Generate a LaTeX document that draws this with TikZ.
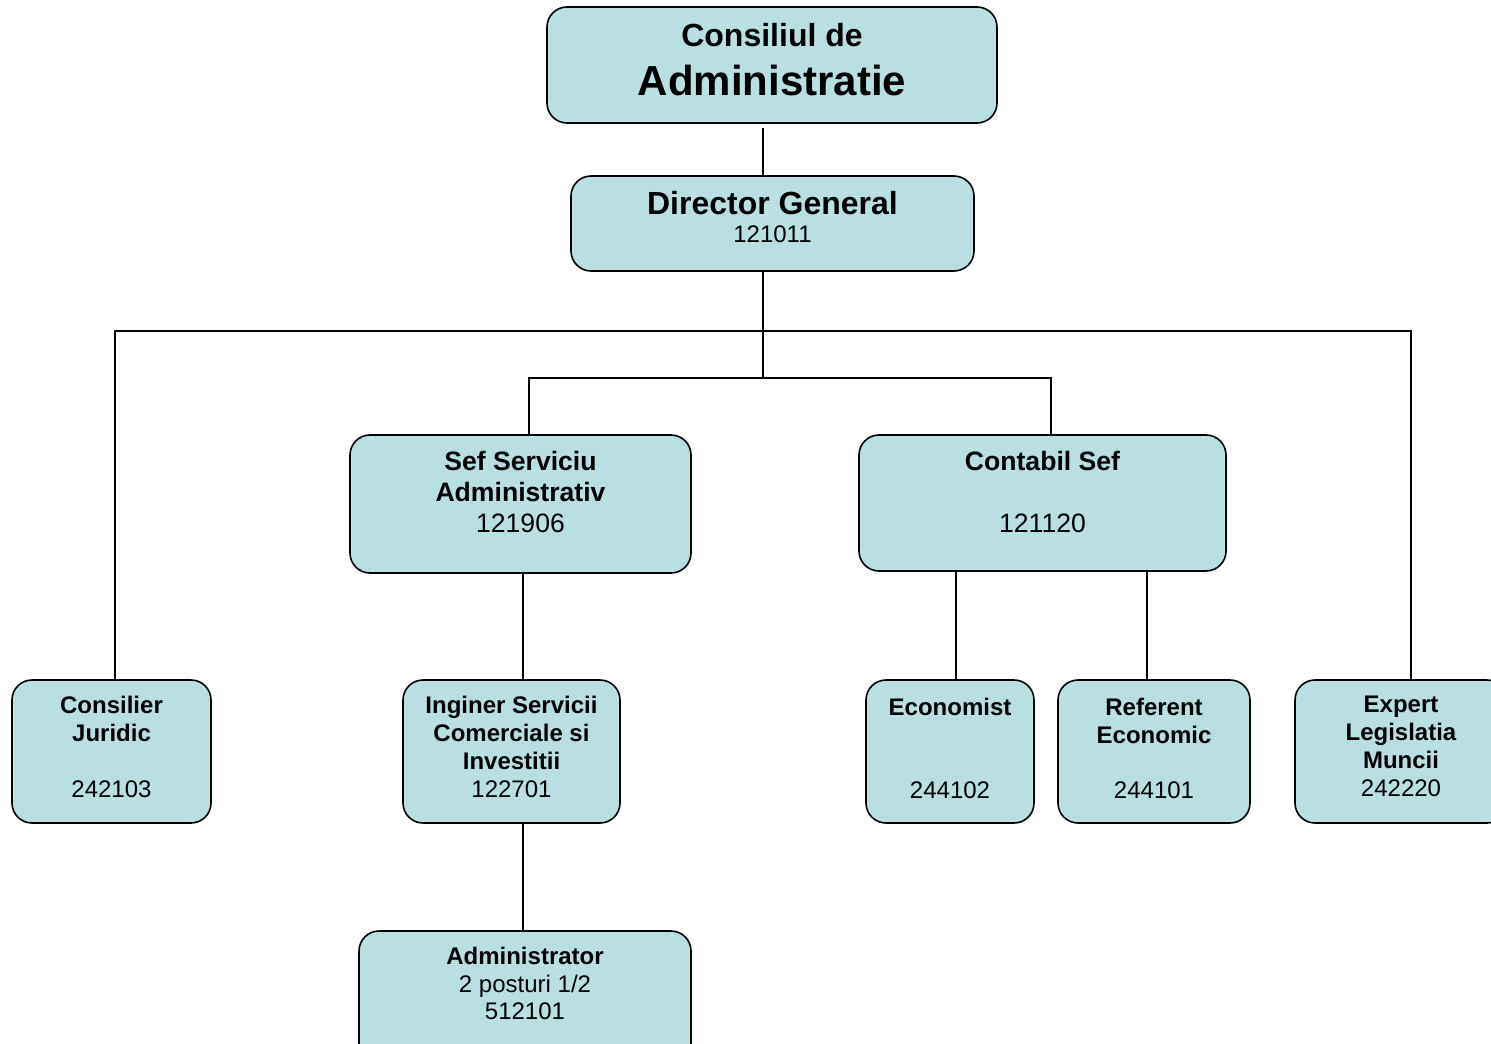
\documentclass[tikz,border=0pt]{standalone}
\usepackage{fontspec}
\setmainfont{Liberation Sans}
\usepackage{tikz}
\usetikzlibrary{positioning, fit, calc}
\definecolor{orgFill}{RGB}{185, 223, 227}
\definecolor{orgLine}{RGB}{0, 0, 0}
\tikzset{
    post/.style={
        rectangle,
        rounded corners=10pt,
        draw=orgLine,
        line width=0.8pt,
        fill=orgFill,
        inner sep=0pt
    },
    posttext/.style={
        anchor=north,
        inner sep=0pt,
        align=center,
        font=\fontsize{12}{14}\selectfont
    },
    link/.style={
        draw=orgLine,
        line width=0.7pt
    }
}

\begin{document}
\begin{tikzpicture}[x=0.5pt, y=-0.5pt]
  \useasboundingbox (0,0) rectangle (1491,1043);

  % Coordinates
  \coordinate (trunk) at (763,331);
  \coordinate (fork) at (763,378);
  \coordinate (colA) at (523,0);
  \coordinate (colB) at (956,0);
  \coordinate (colC) at (1147,0);

  % Components
  \node[post, fit={(547,7) (997,123)}] (cda) {};
  \node[post, fit={(571,176) (974,271)}] (dg) {};
  \node[post, fit={(350,435) (691,573)}] (sef) {};
  \node[post, fit={(859,435) (1226,571)}] (cs) {};
  \node[post, fit={(12,680) (211,823)}] (cj) {};
  \node[post, fit={(403,680) (620,823)}] (isci) {};
  \node[post, fit={(866,680) (1034,823)}] (eco) {};
  \node[post, fit={(1058,680) (1250,823)}] (ref) {};
  \node[post, fit={(1295,680) (1507,823)}] (elm) {};
  \node[post, fit={(359,931) (691,1069)}] (adm) {};

  % Texts
  \node[posttext, font=\bfseries\fontsize{16}{18}\selectfont] (cda-t) at ([yshift=-8.5pt]cda.north) {Consiliul de\\[6.5pt]\fontsize{21}{24.5}\selectfont Administratie};
  \node[posttext] (dg-t) at ([yshift=-7.75pt]dg.north) {{\bfseries\fontsize{16}{18}\selectfont Director General}\\\fontsize{12}{14.5}\selectfont 121011};
  \node[posttext, font=\fontsize{13.3}{15.5}\selectfont] (sef-t) at ([yshift=-8.25pt]sef.north) {\textbf{Sef Serviciu}\\\textbf{Administrativ}\\121906};
  \node[posttext, font=\fontsize{13.3}{15.5}\selectfont] (cs-t) at ([yshift=-8.25pt]cs.north) {\textbf{Contabil Sef}\\~\\121120};
  \node[posttext] (cj-t) at ([yshift=-8.25pt]cj.north) {\textbf{Consilier}\\\textbf{Juridic}\\~\\242103};
  \node[posttext] (isci-t) at ([yshift=-8.25pt]isci.north) {\textbf{Inginer Servicii}\\\textbf{Comerciale si}\\\textbf{Investitii}\\122701};
  \node[posttext, font=\fontsize{12}{13.8}\selectfont] (eco-t) at ([yshift=-9.25pt]eco.north) {\textbf{Economist}\\~\\~\\244102};
  \node[posttext, font=\fontsize{12}{13.8}\selectfont] (ref-t) at ([yshift=-9.25pt]ref.north) {\textbf{Referent}\\\textbf{Economic}\\~\\244101};
  \node[posttext] (elm-t) at ([yshift=-8.25pt]elm.north) {\textbf{Expert}\\\textbf{Legislatia}\\\textbf{Muncii}\\242220};
  \node[posttext, font=\fontsize{12}{13.75}\selectfont] (adm-t) at ([yshift=-8.25pt]adm.north) {\textbf{Administrator}\\2 posturi 1/2\\512101};

  % Connections
  \draw[link] ([yshift=-2pt]cda.south -| trunk) -- (dg.north -| trunk);
  \draw[link] (dg.south -| trunk) -- (fork);
  \draw[link] ([xshift=4.25pt]sef.north) |- (fork) -| ([xshift=4.25pt]cs.north);
  \draw[link] ([xshift=1.75pt]cj.north) |- (trunk) -| ([xshift=5pt]elm.north);
  \draw[link, line width=1.3pt] ([xshift=-13pt]trunk) -- ([xshift=20pt]trunk);
  \draw[link] (sef.south -| colA) -- (isci.north -| colA);
  \draw[link] (isci.south -| colA) -- (adm.north -| colA);
  \draw[link] (cs.south -| colB) -- (eco.north -| colB);
  \draw[link] (cs.south -| colC) -- (ref.north -| colC);
\end{tikzpicture}
\end{document}
